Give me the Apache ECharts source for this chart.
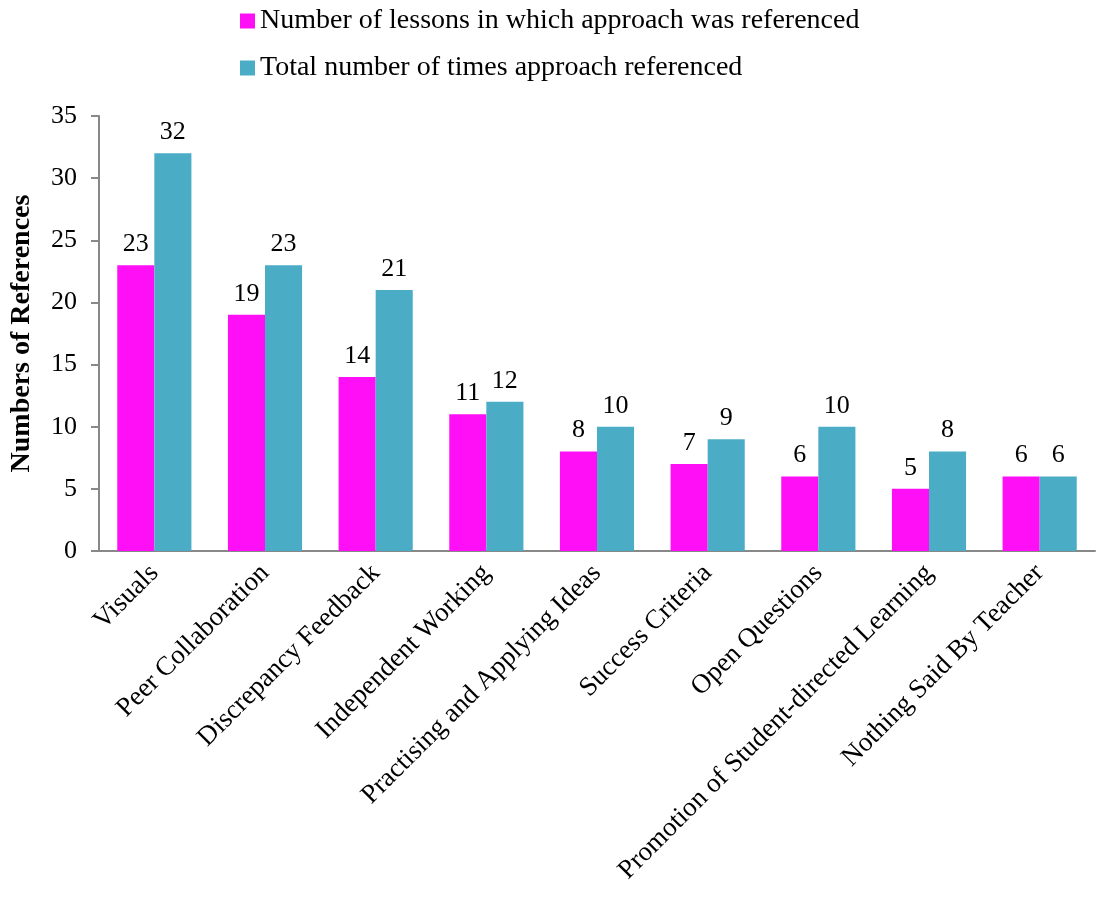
<!DOCTYPE html>
<html><head><meta charset="utf-8">
<script src="https://cdn.jsdelivr.net/npm/echarts@6/dist/echarts.min.js"></script>
<style>html,body{margin:0;padding:0;background:#fff}#c{width:1097px;height:911px}</style>
</head><body><div id="c"></div>
<script>
const categories = ["Visuals","Peer Collaboration","Discrepancy Feedback","Independent Working","Practising and Applying Ideas","Success Criteria","Open Questions","Promotion of Student-directed Learning","Nothing Said By Teacher"];
const lessons = [23,19,14,11,8,7,6,5,6];
const totals = [32,23,21,12,10,9,10,8,6];
const seriesNames = ["Number of lessons in which approach was referenced","Total number of times approach referenced"];
const yTicks = [0,5,10,15,20,25,30,35];
const FONT = "Liberation Serif";
const chart = echarts.init(document.getElementById('c'));
const lbl = {show:true, position:'top', distance:8, fontFamily:FONT, fontSize:26, color:'#000'};
chart.setOption({
  animation:false,
  textStyle:{fontFamily:FONT},
  legend:{orient:'vertical', left:240, top:6, padding:0, itemWidth:15, itemHeight:15, itemGap:17, itemStyle:{borderWidth:0},
    icon:'rect', textStyle:{fontFamily:FONT, fontSize:28, lineHeight:30, color:'#000'},
    data:seriesNames},
  grid:{left:99, right:2, top:116, bottom:360},
  xAxis:{type:'category', data:categories,
    axisLine:{lineStyle:{color:'#888', width:2}}, axisTick:{show:false},
    axisLabel:{rotate:45, interval:0, fontFamily:FONT, fontSize:27, color:'#000', margin:18}},
  yAxis:{type:'value', min:yTicks[0], max:yTicks[yTicks.length-1], interval:5,
    name:'Numbers of References', nameLocation:'middle', nameGap:63, nameRotate:90,
    nameTextStyle:{fontFamily:FONT, fontSize:28, fontWeight:'bold', color:'#000'},
    axisLine:{show:true, lineStyle:{color:'#888', width:2}},
    axisTick:{show:true, length:8, lineStyle:{color:'#888', width:2}},
    splitLine:{show:false},
    axisLabel:{fontFamily:FONT, fontSize:26, color:'#000', margin:22}},
  series:[
    {name:seriesNames[0], type:'bar', data:lessons, barGap:'0%', barCategoryGap:'33%',
      itemStyle:{color:'#FF0FF5'}, label:lbl},
    {name:seriesNames[1], type:'bar', data:totals,
      itemStyle:{color:'#4BACC6'}, label:lbl}
  ]
});
</script></body></html>
